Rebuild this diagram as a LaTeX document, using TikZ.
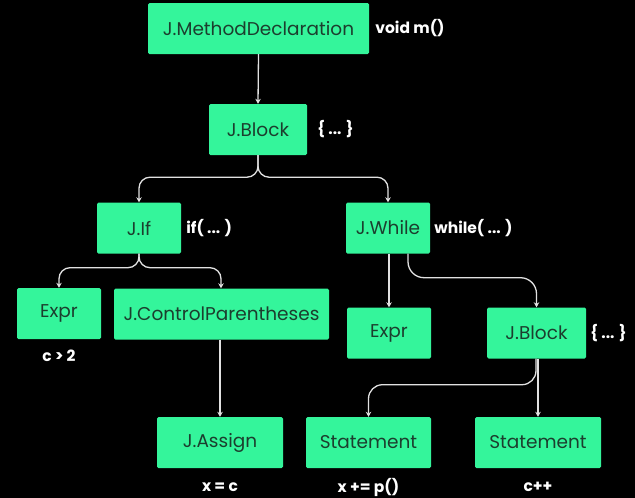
\documentclass[tikz,border=0pt]{standalone}
\usepackage{fontspec}
\setmainfont{Poppins}
\usetikzlibrary{arrows.meta}
\definecolor{boxgreen}{RGB}{52,245,155}
\definecolor{boxtext}{RGB}{28,62,46}
\definecolor{wire}{RGB}{225,225,225}
\begin{document}
\begin{tikzpicture}[x=1pt,y=-1pt,
  box/.style={fill=boxgreen, draw=none, rounded corners=1.5pt, text=boxtext,
    font=\fontsize{18.5}{22}\selectfont, inner sep=0pt, minimum height=51pt},
  lab/.style={text=white, font=\bfseries\fontsize{15.5}{18}\selectfont, inner sep=0pt},
  wireline/.style={draw=wire, line width=1.3pt, rounded corners=11pt,
    -{Stealth[length=5pt,width=5.5pt]}}]
\fill[black] (0,0) rectangle (635,498);
\useasboundingbox (0,0) rectangle (635,498);
% nodes
\node[box, minimum width=221pt] (md) at (258.5,28.5) {J.MethodDeclaration};
\node[box, minimum width=98pt] (blk) at (258,129.5) {J.Block};
\node[box, minimum width=84pt] (if) at (139,228) {J.If};
\node[box, minimum width=84pt] (wh) at (388,228) {J.While};
\node[box, minimum width=84pt] (ex1) at (59,313.5) {Expr};
\node[box, minimum width=215pt] (cp) at (221.5,314) {J.ControlParentheses};
\node[box, minimum width=84pt] (ex2) at (389,333) {Expr};
\node[box, minimum width=99pt] (blk2) at (536.5,333) {J.Block};
\node[box, minimum width=126pt] (as) at (220,442.5) {J.Assign};
\node[box, minimum width=125pt] (st1) at (368.5,442.5) {Statement};
\node[box, minimum width=126pt] (st2) at (538,442.5) {Statement};
% labels
\node[lab, anchor=west] (lmd) at ([xshift=6pt]md.east) {void m()};
\node[lab, anchor=west] (lblk) at ([xshift=10pt]blk.east) {\{ ... \}};
\node[lab, anchor=west] (lif) at ([xshift=5pt]if.east) {if( ... )};
\node[lab, anchor=west] (lwh) at ([xshift=4pt]wh.east) {while( ... )};
\node[lab, anchor=west] (lblk2) at ([xshift=4pt]blk2.east) {\{ ... \}};
\node[lab] (lex1) at ([yshift=-17pt]ex1.south) {c > 2};
\node[lab] (las) at ([yshift=-19pt]as.south) {x = c};
\node[lab] (lst1) at ([yshift=-19pt]st1.south) {x += p()};
\node[lab] (lst2) at ([yshift=-19pt]st2.south) {c++};
% connectors
\draw[wireline] (md.south) -- (blk.north);
\draw[wireline] (blk.south) -- ++(0,22) -| (if.north);
\draw[wireline] (blk.south) -- ++(0,22) -| (wh.north);
\draw[wireline] (if.south) -- ++(0,14) -| (ex1.north);
\draw[wireline] (if.south) -- ++(0,14) -| ([xshift=-0.5pt]cp.north);
\draw[wireline] ([xshift=1pt]wh.south) -- (ex2.north);
\coordinate (whs) at ([xshift=20pt]wh.south);
\draw[wireline, rounded corners=16pt] (whs) -- ++(0,24) -| (blk2.north);
\draw[wireline] ([xshift=-1.5pt]cp.south) -- (as.north);
\draw[wireline, rounded corners=14pt] ([xshift=-0.5pt]blk2.south) -- ++(0,26) -| (st1.north);
\draw[wireline] (st2.north |- blk2.south) -- (st2.north);
\end{tikzpicture}
\end{document}
